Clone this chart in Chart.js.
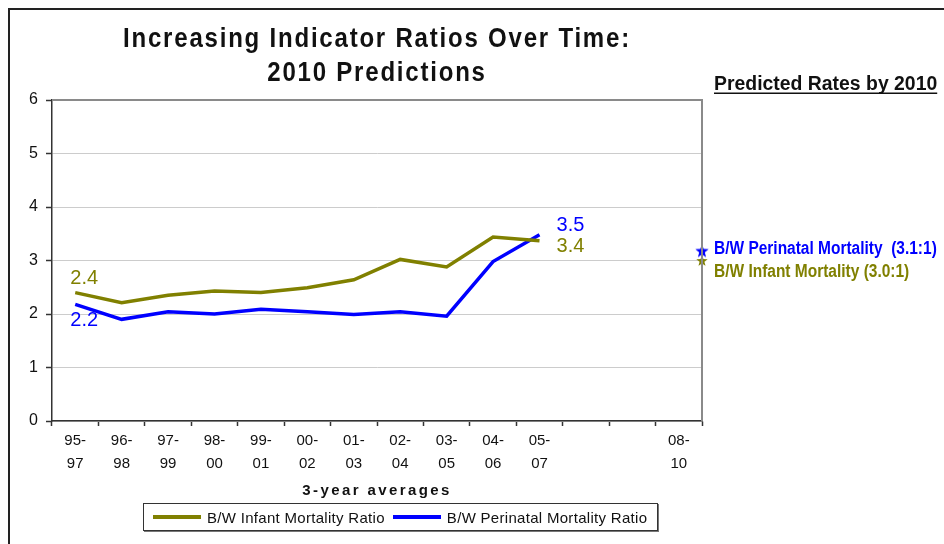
<!DOCTYPE html>
<html>
<head>
<meta charset="utf-8">
<script src="https://cdn.jsdelivr.net/npm/chart.js@4.4.1/dist/chart.umd.min.js"></script>
<style>
  html, body { margin: 0; padding: 0; background: #fff; }
  body { width: 944px; height: 544px; position: relative; overflow: hidden; font-family: 'Liberation Sans', Arial, sans-serif; }
  #frame { position: absolute; left: 8px; top: 8px; width: 1000px; height: 600px; border-top: 2px solid #222; border-left: 2px solid #222; }
  #chart { position: absolute; left: 0; top: 0; }
  #legend { position: absolute; left: 143px; top: 503px; width: 513px; height: 26px; border: 1px solid #333; box-shadow: 1px 1px 0 #777; display: flex; align-items: center; font-family: 'Liberation Sans', sans-serif; font-size: 15px; letter-spacing: 0.3px; white-space: nowrap; color: #111; background: #fff; }
  .item { display: flex; align-items: center; margin-left: 9px; }
  .item + .item { margin-left: 8px; }
  .swatch { width: 48px; height: 4px; margin-right: 6px; }
</style>
</head>
<body>
<div id="frame"></div>
<canvas id="chart" width="944" height="544"></canvas>
<div id="legend"></div>
<script>
// categories (3-year averages); two empty slots before the 2010 prediction
const categories = [
  ['95-', '97'], ['96-', '98'], ['97-', '99'], ['98-', '00'], ['99-', '01'],
  ['00-', '02'], ['01-', '03'], ['02-', '04'], ['03-', '05'], ['04-', '06'],
  ['05-', '07'], '', '', ['08-', '10']
];
const infantRatio = [2.40, 2.21, 2.35, 2.43, 2.40, 2.49, 2.64, 3.02, 2.88, 3.44, 3.37];
const perinatalRatio = [2.18, 1.90, 2.04, 2.00, 2.09, 2.04, 1.99, 2.04, 1.96, 2.98, 3.48];
const predictedPerinatal = 3.17;
const predictedInfant = 2.99;
const predictedLabels = ['3.1:1', '3.0:1'];
const yTicks = [0, 1, 2, 3, 4, 5, 6];

const OLIVE = '#808000';
const BLUE = '#0000ff';
const seriesNames = ['B/W Infant Mortality Ratio', 'B/W Perinatal Mortality Ratio'];

function makeStar(color, r) {
  const c = document.createElement('canvas');
  c.width = c.height = r * 2 + 2;
  const g = c.getContext('2d');
  g.fillStyle = color;
  g.beginPath();
  for (let i = 0; i < 10; i++) {
    const rad = i % 2 === 0 ? r : r * 0.42;
    const a = -Math.PI / 2 + i * Math.PI / 5;
    g.lineTo(r + 1 + rad * Math.cos(a), r + 1 + rad * Math.sin(a));
  }
  g.closePath();
  g.fill();
  return c;
}

// squeezed text, the original uses a narrow face
function narrowText(ctx, text, x, y, sx) {
  ctx.save();
  ctx.translate(x, y);
  ctx.scale(sx, 1);
  ctx.fillText(text, 0, 0);
  ctx.restore();
}

// text that is not handled by chart.js itself
const annotations = {
  id: 'annotations',
  beforeDraw(chart) {
    const { ctx, chartArea: a } = chart;
    ctx.save();
    ctx.fillStyle = '#111';
    ctx.textAlign = 'center';
    ctx.textBaseline = 'alphabetic';
    ctx.font = 'bold 27px "Liberation Sans"';
    ctx.letterSpacing = '2px';
    const cx = (a.left + a.right) / 2;
    narrowText(ctx, 'Increasing Indicator Ratios Over Time:', cx, 47, 0.89);
    narrowText(ctx, '2010 Predictions', cx, 81, 0.89);

    // x axis title
    ctx.textBaseline = 'middle';
    ctx.font = 'bold 15px "Liberation Sans"';
    ctx.letterSpacing = '2.4px';
    ctx.fillText('3-year averages', cx, 491);

    ctx.letterSpacing = '0px';
    ctx.textAlign = 'left';
    ctx.textBaseline = 'alphabetic';
    ctx.font = 'bold 20px "Liberation Sans"';
    const t = 'Predicted Rates by 2010';
    const tx = a.right + 12;
    const sx = 0.97;
    narrowText(ctx, t, tx, 89.5, sx);
    const w = ctx.measureText(t).width * sx;
    ctx.fillRect(tx, 92.5, w, 1.5);
    ctx.restore();
  },
  afterDatasetsDraw(chart) {
    const { ctx, chartArea: a } = chart;
    ctx.save();
    // gray frame on top / right of plot
    ctx.strokeStyle = '#8a8a8a';
    ctx.lineWidth = 2;
    ctx.beginPath();
    ctx.moveTo(a.left, a.top);
    ctx.lineTo(a.right, a.top);
    ctx.lineTo(a.right, a.bottom);
    ctx.stroke();

    const inf = chart.getDatasetMeta(0).data;
    const per = chart.getDatasetMeta(1).data;
    const last = infantRatio.length - 1;
    ctx.font = '20px "Liberation Sans"';
    ctx.textAlign = 'center';
    ctx.textBaseline = 'middle';
    ctx.fillStyle = OLIVE;
    ctx.fillText(infantRatio[0].toFixed(1), inf[0].x + 9, inf[0].y - 14);
    ctx.fillText(infantRatio[last].toFixed(1), inf[last].x + 31, inf[last].y + 6);
    ctx.fillStyle = BLUE;
    ctx.fillText(perinatalRatio[0].toFixed(1), per[0].x + 9, per[0].y + 16);
    ctx.fillText(perinatalRatio[last].toFixed(1), per[last].x + 31, per[last].y - 9);

    const sp = chart.getDatasetMeta(2).data[0];
    const si = chart.getDatasetMeta(3).data[0];
    ctx.textAlign = 'left';
    ctx.textBaseline = 'alphabetic';
    ctx.font = 'bold 18px "Liberation Sans"';
    ctx.fillStyle = BLUE;
    narrowText(ctx, 'B/W Perinatal Mortality  (' + predictedLabels[0] + ')', sp.x + 12, sp.y + 3, 0.86);
    ctx.fillStyle = OLIVE;
    narrowText(ctx, 'B/W Infant Mortality (' + predictedLabels[1] + ')', si.x + 12, si.y + 16, 0.86);
    ctx.restore();
  }
};

new Chart(document.getElementById('chart'), {
  type: 'line',
  data: {
    labels: categories,
    datasets: [
      { label: seriesNames[0], data: infantRatio, borderColor: OLIVE, borderWidth: 3.5, pointRadius: 0, tension: 0 },
      { label: seriesNames[1], data: perinatalRatio, borderColor: BLUE, borderWidth: 3.5, pointRadius: 0, tension: 0 },
      { label: 'predicted perinatal', xAxisID: 'xp', data: [{ x: categories.length, y: predictedPerinatal }],
        showLine: false, pointStyle: makeStar(BLUE, 7), pointRadius: 7, clip: false },
      { label: 'predicted infant', xAxisID: 'xp', data: [{ x: categories.length, y: predictedInfant }],
        showLine: false, pointStyle: makeStar(OLIVE, 6), pointRadius: 6, clip: false }
    ]
  },
  options: {
    responsive: false,
    animation: false,
    layout: { padding: { left: 14, top: 100, right: 242, bottom: 44 } },
    plugins: {
      legend: { display: false },
      tooltip: { enabled: false }
    },
    scales: {
      x: {
        offset: true,
        grid: { offset: true, drawOnChartArea: false, tickLength: 5, tickColor: '#333', tickWidth: 1.5 },
        border: { color: '#333', width: 1.5 },
        ticks: {
          autoSkip: false, maxRotation: 0, padding: 4, color: '#111',
          font: { family: '"Liberation Sans"', size: 15, lineHeight: 1.5 }
        },
        afterFit(s) { s.height = 79; }
      },
      xp: { type: 'linear', display: false, min: 0, max: categories.length },
      y: {
        min: 0, max: 6,
        afterBuildTicks(s) { s.ticks = yTicks.map(v => ({ value: v })); },
        grid: { color: '#cccccc', tickColor: '#333', tickLength: 6, tickWidth: 1.5 },
        border: { color: '#333', width: 1.5 },
        ticks: { padding: 8, color: '#111', font: { family: '"Liberation Sans"', size: 16 } },
        afterFit(s) { s.width = 38; }
      }
    }
  },
  plugins: [annotations]
});

const legend = document.getElementById('legend');
[[OLIVE, seriesNames[0]], [BLUE, seriesNames[1]]].forEach(([c, name]) => {
  const it = document.createElement('div');
  it.className = 'item';
  it.innerHTML = '<span class="swatch" style="background:' + c + '"></span><span>' + name + '</span>';
  legend.appendChild(it);
});
</script>
</body>
</html>
